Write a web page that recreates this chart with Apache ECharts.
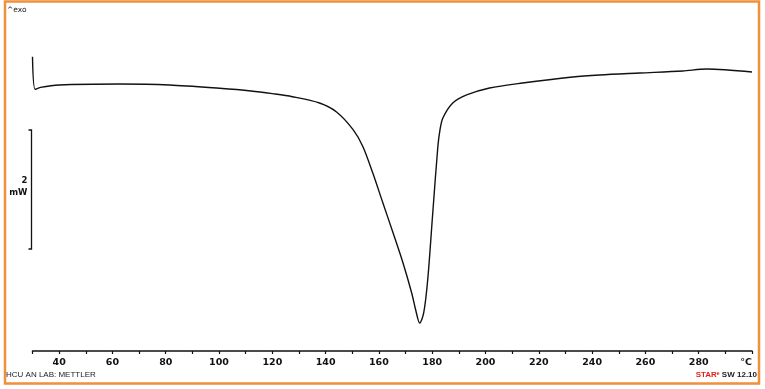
<!DOCTYPE html>
<html>
<head>
<meta charset="utf-8">
<script src="https://cdn.jsdelivr.net/npm/echarts@6/dist/echarts.min.js"></script>
<style>
  html, body { margin: 0; padding: 0; background: #fff; }
  #chart { width: 765px; height: 389px; }
</style>
</head>
<body>
<div id="chart"></div>
<script>
// temperature (°C) and heat flow (mW, arbitrary offset)
const temps = [30.0, 31.0, 33.0, 40.0, 62.6, 81.4, 100.2, 112.0, 120.0, 127.5, 137.7, 144.1, 150.3,
  154.0, 157.7, 161.4, 165.2, 168.9, 172.3, 173.8, 175.3, 176.8, 178.3, 180.2, 182.1, 182.9, 184.0,
  187.7, 192.9, 201.5, 213.9, 232.7, 242.8, 257.9, 274.0, 283.0, 300.0]
const heatFlow = [4.946, 4.398, 4.43, 4.471, 4.487, 4.471, 4.415, 4.37, 4.325, 4.274, 4.168, 4.017, 3.72,
  3.434, 2.99, 2.50, 2.00, 1.50, 0.975, 0.689, 0.471, 0.639, 1.193, 2.319, 3.429, 3.714, 3.916,
  4.168, 4.303, 4.420, 4.504, 4.605, 4.639, 4.672, 4.706, 4.739, 4.689]

// scale bar: 2 mW
const scaleBarFrom = 1.714
const scaleBarSize = 2
const scaleBarLabel = '2\nmW'

const xMin = 30
const xMax = 300
const unitLabel = '°C'

const chart = echarts.init(document.getElementById('chart'))

const options = {
  animation: false,
  backgroundColor: '#fff',
  grid: { left: 32.5, right: 13, top: 23.75, bottom: 38 },
  xAxis: {
    type: 'value',
    min: xMin,
    max: xMax,
    interval: 10,
    splitLine: { show: false },
    axisLine: { lineStyle: { color: '#111', width: 1.5 } },
    axisTick: { length: 3, lineStyle: { color: '#111', width: 1.2 } },
    axisLabel: {
      color: '#111',
      fontFamily: 'DejaVu Sans',
      fontWeight: 'bold',
      fontSize: 9.5,
      margin: 7,
      showMinLabel: true,
      showMaxLabel: true,
      alignMaxLabel: 'right',
      formatter: v => v === xMax ? unitLabel : (v % 20 === 0 ? String(v) : '')
    }
  },
  yAxis: {
    type: 'value',
    min: 0,
    max: 5.5,
    show: false
  },
  series: [
    {
      type: 'line',
      data: temps.map((t, i) => [t, heatFlow[i]]),
      showSymbol: false,
      smooth: 0.3,
      lineStyle: { color: '#111', width: 1.4 }
    }
  ]
}

chart.setOption(options)

// scale bar bracket from the y scale
const barTop = chart.convertToPixel({ gridIndex: 0 }, [xMin, scaleBarFrom + scaleBarSize])
const barBot = chart.convertToPixel({ gridIndex: 0 }, [xMin, scaleBarFrom])
const bx = barTop[0] - 1

chart.setOption({
  graphic: [
    {
      type: 'rect',
      shape: { x: 5, y: 1.5, width: 754, height: 382 },
      style: { fill: null, stroke: '#f0903a', lineWidth: 2.5 },
      silent: true
    },
    {
      type: 'polyline',
      shape: { points: [[bx - 3, barTop[1]], [bx, barTop[1]], [bx, barBot[1]], [bx - 3, barBot[1]]] },
      style: { fill: null, stroke: '#111', lineWidth: 1.3 }
    },
    {
      type: 'text',
      x: bx - 4,
      y: (barTop[1] + barBot[1]) / 2 - 3,
      style: {
        text: scaleBarLabel,
        fontFamily: 'DejaVu Sans',
        fontWeight: 'bold',
        fontSize: 8.5,
        lineHeight: 12,
        fill: '#111',
        align: 'right',
        verticalAlign: 'middle'
      }
    },
    {
      type: 'text',
      x: 7,
      y: 6,
      style: { text: '^exo', fontFamily: 'DejaVu Sans', fontSize: 7.5, fill: '#222' }
    },
    {
      type: 'text',
      x: 6,
      y: 371,
      style: { text: 'HCU AN LAB: METTLER', fontFamily: 'Liberation Sans', fontSize: 8, fill: '#222' }
    },
    {
      type: 'text',
      x: 757,
      y: 371,
      style: {
        text: '{r|STAR}{s|e}{k| SW 12.10}',
        align: 'right',
        rich: {
          r: { fontFamily: 'Liberation Sans', fontWeight: 'bold', fontSize: 8, fill: '#e0201b' },
          s: { fontFamily: 'Liberation Sans', fontWeight: 'bold', fontSize: 5, fill: '#e0201b', verticalAlign: 'top' },
          k: { fontFamily: 'Liberation Sans', fontWeight: 'bold', fontSize: 8, fill: '#222' }
        }
      }
    }
  ]
})

window.addEventListener('resize', () => chart.resize())
</script>
</body>
</html>
